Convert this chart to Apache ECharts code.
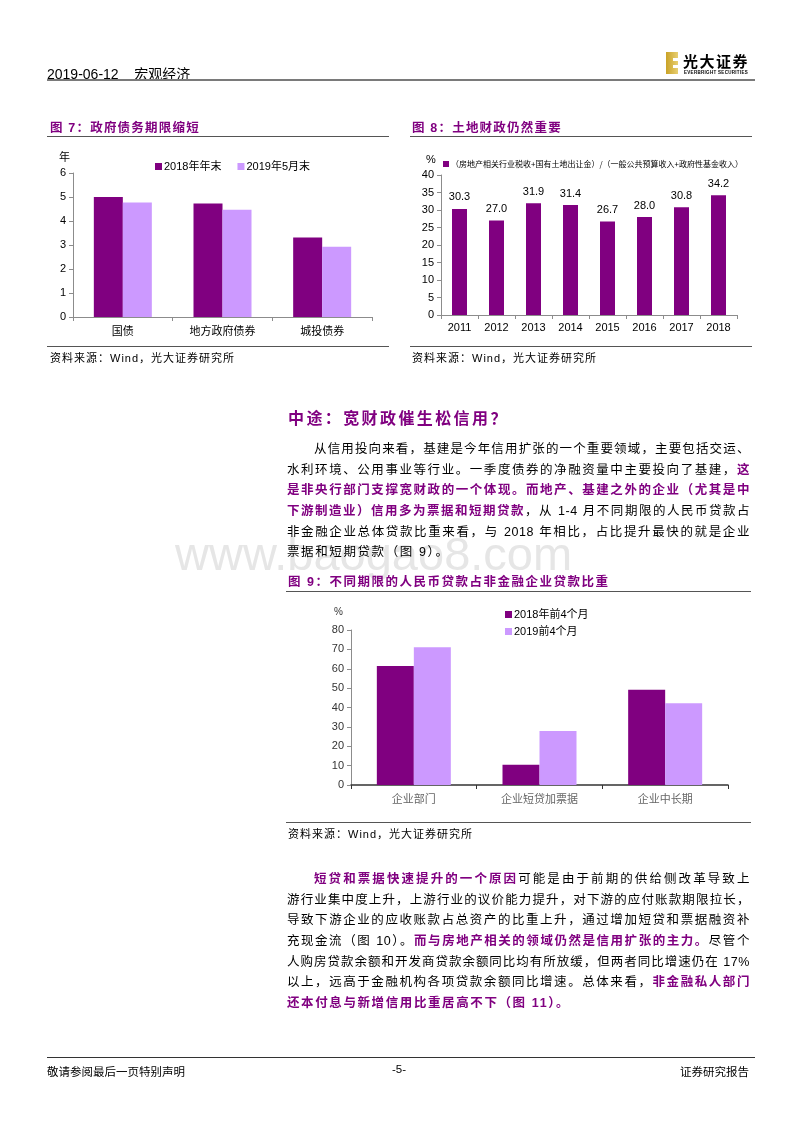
<!DOCTYPE html>
<html>
<head>
<meta charset="utf-8">
<script src="https://cdn.jsdelivr.net/npm/echarts@6/dist/echarts.min.js"></script>
<style>
  html, body { margin:0; padding:0; background:#fff; }
  body { width:800px; height:1132px; position:relative; overflow:hidden;
         font-family:"Liberation Sans","Noto Sans CJK SC",sans-serif; color:#000; }
  #chart { position:absolute; left:0; top:0; width:800px; height:1132px; z-index:0; }
  .abs { position:absolute; z-index:2; white-space:nowrap; }
  .hr { position:absolute; z-index:2; }
  .ftitle { font-size:12.5px; font-weight:bold; color:#800080; letter-spacing:1.2px; }
  .src { font-size:11px; color:#000; letter-spacing:1px; }
  .para { position:absolute; z-index:2; left:287px; width:463px; font-size:12.5px; line-height:20.67px; }
  .ln { display:block; text-align:justify; text-align-last:justify; white-space:nowrap; letter-spacing:0.6px; }
  .ln.last { text-align-last:left; letter-spacing:1.6px; }
  .ind { padding-left:27px; }
  .hl { color:#800080; font-weight:bold; }
  .wm { position:absolute; z-index:1; left:175px; top:530px; font-size:47px; line-height:47px; color:#e6e6e6; font-family:"Liberation Sans",sans-serif; }
</style>
</head>
<body>
<div id="chart"></div>

<!-- header -->
<div class="abs" style="left:47px;top:63px;font-size:14px;">2019-06-12&nbsp;&nbsp;&nbsp;&nbsp;宏观经济</div>
<div class="hr" style="left:47px;top:79px;width:708px;height:2px;background:#7a7a7a;"></div>
<div class="abs" style="left:666px;top:52px;width:12px;height:22px;background:linear-gradient(90deg,#c9a227,#e8cf72);"></div>
<div class="abs" style="left:673px;top:58px;width:5px;height:3px;background:#fff;"></div>
<div class="abs" style="left:673px;top:65px;width:5px;height:3px;background:#fff;"></div>
<div class="abs" style="left:683px;top:50px;font-size:15px;font-weight:bold;letter-spacing:1.5px;">光大证券</div>
<div class="abs" style="left:684px;top:70px;font-size:4.5px;font-weight:bold;letter-spacing:0.3px;">EVERBRIGHT SECURITIES</div>

<!-- figure 7 title / source -->
<div class="abs ftitle" style="left:50px;top:117px;">图 7：政府债务期限缩短</div>
<div class="hr" style="left:47px;top:136px;width:342px;height:1px;background:#555;"></div>
<div class="hr" style="left:47px;top:346px;width:342px;height:1px;background:#555;"></div>
<div class="abs src" style="left:50px;top:349px;">资料来源：Wind，光大证券研究所</div>

<!-- figure 8 title / source -->
<div class="abs ftitle" style="left:412px;top:117px;">图 8：土地财政仍然重要</div>
<div class="hr" style="left:410px;top:136px;width:342px;height:1px;background:#555;"></div>
<div class="hr" style="left:410px;top:346px;width:342px;height:1px;background:#555;"></div>
<div class="abs src" style="left:412px;top:349px;">资料来源：Wind，光大证券研究所</div>

<!-- section heading -->
<div class="abs" style="left:288px;top:405px;font-size:16px;font-weight:bold;color:#800080;letter-spacing:2.4px;">中途：宽财政催生松信用？</div>

<div class="wm">www.baogao8.com</div>

<div class="para" style="top:439px;">
  <span class="ln ind">从信用投向来看，基建是今年信用扩张的一个重要领域，主要包括交运、</span>
  <span class="ln">水利环境、公用事业等行业。一季度债券的净融资量中主要投向了基建，<span class="hl">这</span></span>
  <span class="ln hl">是非央行部门支撑宽财政的一个体现。而地产、基建之外的企业（尤其是中</span>
  <span class="ln"><span class="hl">下游制造业）信用多为票据和短期贷款</span>，从 1-4 月不同期限的人民币贷款占</span>
  <span class="ln">非金融企业总体贷款比重来看，与 2018 年相比，占比提升最快的就是企业</span>
  <span class="ln last">票据和短期贷款（图 9）。</span>
</div>

<!-- figure 9 title / source -->
<div class="abs ftitle" style="left:288px;top:571px;letter-spacing:1.5px;">图 9：不同期限的人民币贷款占非金融企业贷款比重</div>
<div class="hr" style="left:286px;top:591px;width:465px;height:1px;background:#555;"></div>
<div class="hr" style="left:286px;top:822px;width:465px;height:1px;background:#555;"></div>
<div class="abs src" style="left:288px;top:825px;">资料来源：Wind，光大证券研究所</div>

<div class="para" style="top:869px;">
  <span class="ln ind"><span class="hl">短贷和票据快速提升的一个原因</span>可能是由于前期的供给侧改革导致上</span>
  <span class="ln">游行业集中度上升，上游行业的议价能力提升，对下游的应付账款期限拉长，</span>
  <span class="ln">导致下游企业的应收账款占总资产的比重上升，通过增加短贷和票据融资补</span>
  <span class="ln">充现金流（图 10）。<span class="hl">而与房地产相关的领域仍然是信用扩张的主力。</span>尽管个</span>
  <span class="ln">人购房贷款余额和开发商贷款余额同比均有所放缓，但两者同比增速仍在 17%</span>
  <span class="ln">以上，远高于金融机构各项贷款余额同比增速。总体来看，<span class="hl">非金融私人部门</span></span>
  <span class="ln last hl">还本付息与新增信用比重居高不下（图 11）。</span>
</div>

<!-- footer -->
<div class="hr" style="left:47px;top:1057px;width:708px;height:1px;background:#333;"></div>
<div class="abs" style="left:47px;top:1063px;font-size:11.5px;">敬请参阅最后一页特别声明</div>
<div class="abs" style="left:392px;top:1063px;font-size:11.5px;">-5-</div>
<div class="abs" style="left:680px;top:1063px;font-size:11.5px;">证券研究报告</div>

<script>
// ---------- data ----------
const fig7Categories = ['国债', '地方政府债券', '城投债券'];
const fig7Names = ['2018年年末', '2019年5月末'];
const fig7Values2018 = [5.0, 4.73, 3.31];
const fig7Values2019 = [4.77, 4.47, 2.93];

const fig8Years = ['2011', '2012', '2013', '2014', '2015', '2016', '2017', '2018'];
const fig8Name = '（房地产相关行业税收+国有土地出让金）/（一般公共预算收入+政府性基金收入）';
const fig8Values = [30.3, 27.0, 31.9, 31.4, 26.7, 28.0, 30.8, 34.2];

const fig9Categories = ['企业部门', '企业短贷加票据', '企业中长期'];
const fig9Names = ['2018年前4个月', '2019前4个月'];
const fig9Values2018 = [61.4, 10.5, 49.1];
const fig9Values2019 = [71.1, 27.9, 42.2];

// ---------- styles ----------
const DARK = '#800080';
const LIGHT = '#CC99FF';
const FONT = '"Liberation Sans","Noto Sans CJK SC",sans-serif';
const CJK = '"Noto Sans CJK SC",sans-serif';

function valueAxis(gridIndex, min, max, interval, lineColor, labelColor) {
  return {
    type: 'value', gridIndex, min, max, interval,
    axisLine: { show: true, lineStyle: { color: lineColor, width: 1 } },
    axisTick: { show: true, length: 4, lineStyle: { color: lineColor } },
    splitLine: { show: false },
    axisLabel: { color: labelColor, fontSize: 11, fontFamily: FONT, margin: 7 }
  };
}
function catAxis(gridIndex, data, lineColor, labelColor, width) {
  return {
    type: 'category', gridIndex, data,
    axisLine: { show: true, lineStyle: { color: lineColor, width: width } },
    axisTick: { show: true, length: 4, lineStyle: { color: lineColor } },
    axisLabel: { color: labelColor, fontSize: 11, fontFamily: CJK, margin: 8 }
  };
}

const option = {
  animation: false,
  textStyle: { fontFamily: FONT },
  grid: [
    { left: 73, right: 428, top: 173, bottom: 815 },
    { left: 441, right: 63, top: 175, bottom: 817 },
    { left: 351, right: 72, top: 630, bottom: 347 }
  ],
  xAxis: [
    catAxis(0, fig7Categories, '#8c8c8c', '#000', 1),
    Object.assign(catAxis(1, fig8Years, '#8c8c8c', '#000', 1), { axisLabel: { color: '#000', fontSize: 11, fontFamily: FONT, margin: 7 } }),
    catAxis(2, fig9Categories, '#333', '#666', 1.5)
  ],
  yAxis: [
    valueAxis(0, 0, 6, 1, '#8c8c8c', '#000'),
    valueAxis(1, 0, 40, 5, '#8c8c8c', '#000'),
    valueAxis(2, 0, 80, 10, '#8c8c8c', '#333')
  ],
  legend: [
    { data: fig7Names, left: 150, top: 156, icon: 'rect', itemWidth: 7, itemHeight: 7, itemGap: 16,
      textStyle: { fontSize: 11, fontFamily: FONT, color: '#000', padding: [0, 0, 0, -3] } },
    { data: [fig8Name], left: 438, top: 155, icon: 'rect', itemWidth: 6, itemHeight: 6,
      textStyle: { fontSize: 8, fontFamily: CJK, color: '#000', padding: [0, 0, 0, -3] } },
    { data: fig9Names, left: 500, top: 604, orient: 'vertical', icon: 'rect', itemWidth: 7, itemHeight: 7, itemGap: 6,
      textStyle: { fontSize: 11, fontFamily: FONT, color: '#000', padding: [0, 0, 0, -3] } }
  ],
  graphic: [
    { type: 'text', left: 59, top: 151, style: { text: '年', fontSize: 11, fontFamily: CJK, fill: '#000' } },
    { type: 'text', left: 426, top: 154, style: { text: '%', fontSize: 11, fontFamily: FONT, fill: '#000' } },
    { type: 'text', left: 334, top: 607, style: { text: '%', fontSize: 10, fontFamily: FONT, fill: '#333' } }
  ],
  series: [
    { name: fig7Names[0], type: 'bar', xAxisIndex: 0, yAxisIndex: 0, data: fig7Values2018,
      itemStyle: { color: DARK }, barWidth: 29, barGap: '0%' },
    { name: fig7Names[1], type: 'bar', xAxisIndex: 0, yAxisIndex: 0, data: fig7Values2019,
      itemStyle: { color: LIGHT }, barWidth: 29, barGap: '0%' },
    { name: fig8Name, type: 'bar', xAxisIndex: 1, yAxisIndex: 1, data: fig8Values,
      itemStyle: { color: DARK }, barWidth: 15,
      label: { show: true, position: 'top', distance: 6, color: '#000', fontSize: 11, fontFamily: FONT,
               formatter: p => p.value.toFixed(1) } },
    { name: fig9Names[0], type: 'bar', xAxisIndex: 2, yAxisIndex: 2, data: fig9Values2018,
      itemStyle: { color: DARK }, barWidth: 37, barGap: '0%' },
    { name: fig9Names[1], type: 'bar', xAxisIndex: 2, yAxisIndex: 2, data: fig9Values2019,
      itemStyle: { color: LIGHT }, barWidth: 37, barGap: '0%' }
  ]
};

const chart = echarts.init(document.getElementById('chart'), null, { renderer: 'canvas' });
chart.setOption(option);
</script>
</body>
</html>
